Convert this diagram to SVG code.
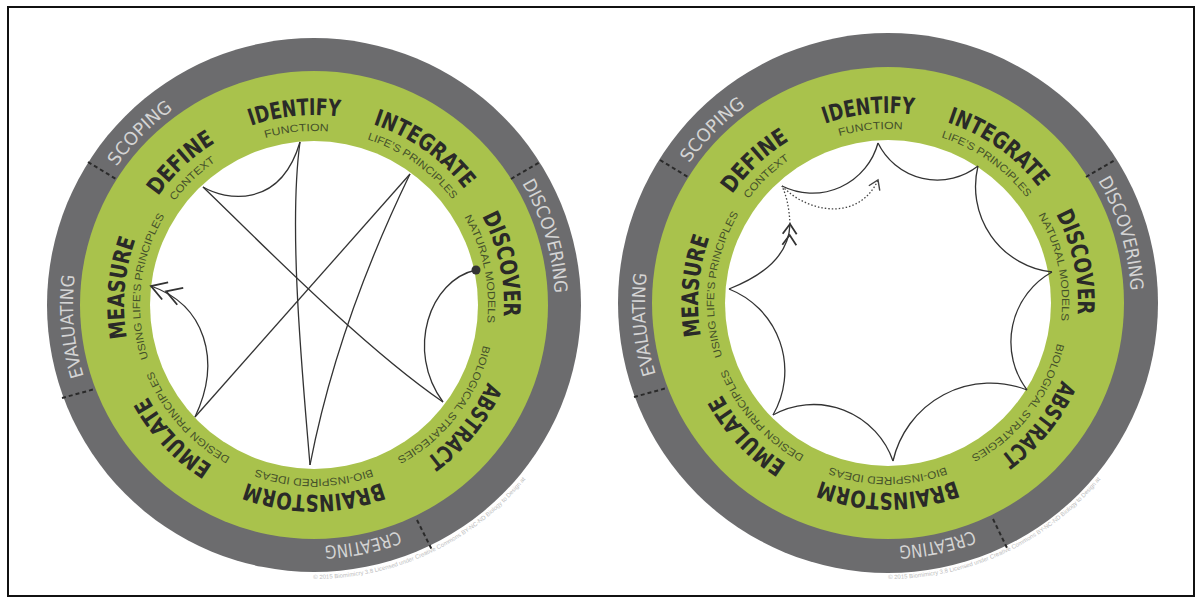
<svg xmlns="http://www.w3.org/2000/svg" width="1195" height="606" viewBox="0 0 1195 606">
<style>
.bg{fill:#ffffff}
.frame{fill:none;stroke:#111;stroke-width:2}
.outer{fill:#6c6c6e}
.green{fill:#a9c24c}
.inner{fill:#ffffff}
.main{font-family:"Liberation Sans Narrow","DejaVu Sans Condensed","Liberation Sans",sans-serif;font-weight:bold;font-size:23px;fill:#2a2a28}
.sub{font-family:"Liberation Sans","DejaVu Sans",sans-serif;font-size:10.5px;fill:#44502a}
.phase{font-family:"Liberation Sans Narrow","DejaVu Sans Condensed","Liberation Sans",sans-serif;font-size:18px;fill:#d4d4d4}
.copy{font-family:"Liberation Sans","DejaVu Sans",sans-serif;font-size:6px;fill:#bdbdbd}
.div{stroke:#2a2a2a;stroke-width:2;stroke-dasharray:4 3}
.conn{fill:none;stroke:#333;stroke-width:1.3}
.dot{fill:none;stroke:#444;stroke-width:1.3;stroke-dasharray:1.5 2}
</style>
<defs>
<marker id="dbl" markerUnits="userSpaceOnUse" markerWidth="40" markerHeight="30" refX="0" refY="0" orient="auto" overflow="visible" viewBox="-35 -15 40 30">
<path d="M-15,-9 L0,0 L-15,9 M-31,-9 L-16,0 L-31,9" fill="none" stroke="#333" stroke-width="1.8"/>
</marker>
<marker id="dbls" markerUnits="userSpaceOnUse" markerWidth="30" markerHeight="20" refX="0" refY="0" orient="auto" overflow="visible" viewBox="-25 -10 30 20">
<path d="M-10,-7 L0,0 L-10,7 M-21,-7 L-11,0 L-21,7" fill="none" stroke="#333" stroke-width="1.8"/>
</marker>
<marker id="sgl" markerUnits="userSpaceOnUse" markerWidth="20" markerHeight="20" refX="0" refY="0" orient="auto" overflow="visible" viewBox="-15 -10 20 20">
<path d="M-9,-6 L0,0 L-9,6" fill="none" stroke="#444" stroke-width="1.4"/>
</marker>
<path id="lm" d="M124,305 A190,190 0 0 1 504,305 A190,190 0 0 1 124,305 A190,190 0 0 1 504,305 A190,190 0 0 1 124,305"/>
<path id="ls" d="M140,305 A174,174 0 0 1 488,305 A174,174 0 0 1 140,305 A174,174 0 0 1 488,305 A174,174 0 0 1 140,305"/>
<path id="lg" d="M73,305 A241,241 0 0 1 555,305 A241,241 0 0 1 73,305 A241,241 0 0 1 555,305 A241,241 0 0 1 73,305"/>
<path id="lc" d="M40,305 A274,274 0 0 0 588,305 A274,274 0 0 0 40,305 A274,274 0 0 0 588,305 A274,274 0 0 0 40,305"/>
<path id="rm" d="M698,303 A190,190 0 0 1 1078,303 A190,190 0 0 1 698,303 A190,190 0 0 1 1078,303 A190,190 0 0 1 698,303"/>
<path id="rs" d="M714,303 A174,174 0 0 1 1062,303 A174,174 0 0 1 714,303 A174,174 0 0 1 1062,303 A174,174 0 0 1 714,303"/>
<path id="rg" d="M645,303 A243,243 0 0 1 1131,303 A243,243 0 0 1 645,303 A243,243 0 0 1 1131,303 A243,243 0 0 1 645,303"/>
<path id="rc" d="M612,303 A276,276 0 0 0 1164,303 A276,276 0 0 0 612,303 A276,276 0 0 0 1164,303 A276,276 0 0 0 612,303"/>
</defs>
<rect class="bg" x="0" y="0" width="1195" height="606"/>
<rect class="frame" x="8" y="7" width="1186" height="589"/>

<!-- LEFT WHEEL -->
<g id="left-wheel">
<circle class="outer" cx="314" cy="305" r="267"/>
<circle class="green" cx="314" cy="305" r="234"/>
<circle class="inner" cx="314" cy="305" r="164"/>
<g id="left-dividers">
<line class="div" x1="88" y1="162" x2="116" y2="179"/>
<line class="div" x1="511" y1="179" x2="540" y2="162"/>
<line class="div" x1="62" y1="398" x2="95" y2="389"/>
<line class="div" x1="417" y1="520" x2="432" y2="550"/>
</g>
<g id="left-phases">
<text class="phase"><textPath href="#lg" startOffset="56.2%" text-anchor="middle" textLength="81" lengthAdjust="spacingAndGlyphs">SCOPING</textPath></text>
<text class="phase"><textPath href="#lg" startOffset="72.7%" text-anchor="middle" textLength="116" lengthAdjust="spacingAndGlyphs">DISCOVERING</textPath></text>
<text class="phase"><textPath href="#lg" startOffset="35.9%" text-anchor="middle" textLength="76" lengthAdjust="spacingAndGlyphs">CREATING</textPath></text>
<text class="phase"><textPath href="#lg" startOffset="49.3%" text-anchor="middle" textLength="102" lengthAdjust="spacingAndGlyphs">EVALUATING</textPath></text>
</g>
<g id="l-identify"><text class="main"><textPath href="#lm" startOffset="61.7%" text-anchor="middle" textLength="90" lengthAdjust="spacingAndGlyphs">IDENTIFY</textPath></text><text class="sub"><textPath href="#ls" startOffset="61.7%" text-anchor="middle" textLength="64" lengthAdjust="spacingAndGlyphs">FUNCTION</textPath></text></g>
<g id="l-integrate"><text class="main"><textPath href="#lm" startOffset="67.4%" text-anchor="middle" textLength="114" lengthAdjust="spacingAndGlyphs">INTEGRATE</textPath></text><text class="sub"><textPath href="#ls" startOffset="67.4%" text-anchor="middle" textLength="106" lengthAdjust="spacingAndGlyphs">LIFE’S PRINCIPLES</textPath></text></g>
<g id="l-discover"><text class="main"><textPath href="#lm" startOffset="73.3%" text-anchor="middle" textLength="104" lengthAdjust="spacingAndGlyphs">DISCOVER</textPath></text><text class="sub"><textPath href="#ls" startOffset="73.3%" text-anchor="middle" textLength="110" lengthAdjust="spacingAndGlyphs">NATURAL MODELS</textPath></text></g>
<g id="l-abstract"><text class="main"><textPath href="#lm" startOffset="30.4%" text-anchor="middle" textLength="99" lengthAdjust="spacingAndGlyphs">ABSTRACT</textPath></text><text class="sub"><textPath href="#ls" startOffset="30.2%" text-anchor="middle" textLength="146" lengthAdjust="spacingAndGlyphs">BIOLOGICAL STRATEGIES</textPath></text></g>
<g id="l-brainstorm"><text class="main"><textPath href="#lm" startOffset="37.5%" text-anchor="middle" textLength="138" lengthAdjust="spacingAndGlyphs">BRAINSTORM</textPath></text><text class="sub"><textPath href="#ls" startOffset="37.5%" text-anchor="middle" textLength="118" lengthAdjust="spacingAndGlyphs">BIO-INSPIRED IDEAS</textPath></text></g>
<g id="l-emulate"><text class="main"><textPath href="#lm" startOffset="44%" text-anchor="middle" textLength="96" lengthAdjust="spacingAndGlyphs">EMULATE</textPath></text><text class="sub"><textPath href="#ls" startOffset="44.2%" text-anchor="middle" textLength="118" lengthAdjust="spacingAndGlyphs">DESIGN PRINCIPLES</textPath></text></g>
<g id="l-measure"><text class="main"><textPath href="#lm" startOffset="50.7%" text-anchor="middle" textLength="100" lengthAdjust="spacingAndGlyphs">MEASURE</textPath></text><text class="sub"><textPath href="#ls" startOffset="50.9%" text-anchor="middle" textLength="148" lengthAdjust="spacingAndGlyphs">USING LIFE’S PRINCIPLES</textPath></text></g>
<g id="l-define"><text class="main"><textPath href="#lm" startOffset="56.5%" text-anchor="middle" textLength="79" lengthAdjust="spacingAndGlyphs">DEFINE</textPath></text><text class="sub"><textPath href="#ls" startOffset="56.4%" text-anchor="middle" textLength="57" lengthAdjust="spacingAndGlyphs">CONTEXT</textPath></text></g>
<text class="copy"><textPath href="#lc" startOffset="16%" text-anchor="middle">© 2015 Biomimicry 3.8   Licensed under Creative Commons BY-NC-ND   Biology to Design at</textPath></text>
</g>

<g id="left-connectors">
<path class="conn" d="M203,187 C225,200 280,210 300,142"/>
<path class="conn" d="M300,142 C288,230 303,380 310,465"/>
<path class="conn" d="M203,187 C250,232 360,345 443,402"/>
<path class="conn" d="M410,174 L195,417"/>
<path class="conn" d="M410,174 Q337,325 310,465"/>
<path class="conn" d="M476,270 C430,280 405,350 443,402"/>
<path class="conn" d="M195,417 C222,360 205,305 151,286" marker-end="url(#dbl)"/>
<circle cx="476" cy="270" r="4.5" fill="#333"/>
</g>

<!-- RIGHT WHEEL -->
<g id="right-wheel">
<circle class="outer" cx="888" cy="303" r="270"/>
<circle class="green" cx="888" cy="303" r="236"/>
<circle class="inner" cx="888" cy="303" r="163"/>
<g id="right-dividers">
<line class="div" x1="660" y1="160" x2="688" y2="177"/>
<line class="div" x1="1086" y1="177" x2="1115" y2="160"/>
<line class="div" x1="634" y1="397" x2="667" y2="388"/>
<line class="div" x1="993" y1="519" x2="1008" y2="550"/>
</g>
<g id="right-phases">
<text class="phase"><textPath href="#rg" startOffset="56.2%" text-anchor="middle" textLength="81" lengthAdjust="spacingAndGlyphs">SCOPING</textPath></text>
<text class="phase"><textPath href="#rg" startOffset="72.7%" text-anchor="middle" textLength="116" lengthAdjust="spacingAndGlyphs">DISCOVERING</textPath></text>
<text class="phase"><textPath href="#rg" startOffset="35.9%" text-anchor="middle" textLength="76" lengthAdjust="spacingAndGlyphs">CREATING</textPath></text>
<text class="phase"><textPath href="#rg" startOffset="49.3%" text-anchor="middle" textLength="102" lengthAdjust="spacingAndGlyphs">EVALUATING</textPath></text>
</g>
<g id="r-identify"><text class="main"><textPath href="#rm" startOffset="61.7%" text-anchor="middle" textLength="90" lengthAdjust="spacingAndGlyphs">IDENTIFY</textPath></text><text class="sub"><textPath href="#rs" startOffset="61.7%" text-anchor="middle" textLength="64" lengthAdjust="spacingAndGlyphs">FUNCTION</textPath></text></g>
<g id="r-integrate"><text class="main"><textPath href="#rm" startOffset="67.4%" text-anchor="middle" textLength="114" lengthAdjust="spacingAndGlyphs">INTEGRATE</textPath></text><text class="sub"><textPath href="#rs" startOffset="67.4%" text-anchor="middle" textLength="106" lengthAdjust="spacingAndGlyphs">LIFE’S PRINCIPLES</textPath></text></g>
<g id="r-discover"><text class="main"><textPath href="#rm" startOffset="73.3%" text-anchor="middle" textLength="104" lengthAdjust="spacingAndGlyphs">DISCOVER</textPath></text><text class="sub"><textPath href="#rs" startOffset="73.3%" text-anchor="middle" textLength="110" lengthAdjust="spacingAndGlyphs">NATURAL MODELS</textPath></text></g>
<g id="r-abstract"><text class="main"><textPath href="#rm" startOffset="30.4%" text-anchor="middle" textLength="99" lengthAdjust="spacingAndGlyphs">ABSTRACT</textPath></text><text class="sub"><textPath href="#rs" startOffset="30.2%" text-anchor="middle" textLength="146" lengthAdjust="spacingAndGlyphs">BIOLOGICAL STRATEGIES</textPath></text></g>
<g id="r-brainstorm"><text class="main"><textPath href="#rm" startOffset="37.5%" text-anchor="middle" textLength="138" lengthAdjust="spacingAndGlyphs">BRAINSTORM</textPath></text><text class="sub"><textPath href="#rs" startOffset="37.5%" text-anchor="middle" textLength="118" lengthAdjust="spacingAndGlyphs">BIO-INSPIRED IDEAS</textPath></text></g>
<g id="r-emulate"><text class="main"><textPath href="#rm" startOffset="44%" text-anchor="middle" textLength="96" lengthAdjust="spacingAndGlyphs">EMULATE</textPath></text><text class="sub"><textPath href="#rs" startOffset="44.2%" text-anchor="middle" textLength="118" lengthAdjust="spacingAndGlyphs">DESIGN PRINCIPLES</textPath></text></g>
<g id="r-measure"><text class="main"><textPath href="#rm" startOffset="50.7%" text-anchor="middle" textLength="100" lengthAdjust="spacingAndGlyphs">MEASURE</textPath></text><text class="sub"><textPath href="#rs" startOffset="50.9%" text-anchor="middle" textLength="148" lengthAdjust="spacingAndGlyphs">USING LIFE’S PRINCIPLES</textPath></text></g>
<g id="r-define"><text class="main"><textPath href="#rm" startOffset="56.5%" text-anchor="middle" textLength="79" lengthAdjust="spacingAndGlyphs">DEFINE</textPath></text><text class="sub"><textPath href="#rs" startOffset="56.4%" text-anchor="middle" textLength="57" lengthAdjust="spacingAndGlyphs">CONTEXT</textPath></text></g>
<text class="copy"><textPath href="#rc" startOffset="16%" text-anchor="middle">© 2015 Biomimicry 3.8   Licensed under Creative Commons BY-NC-ND   Biology to Design at</textPath></text>
</g>

<g id="right-connectors">
<path class="conn" d="M782,186 A68,68 0 0 0 878,143"/>
<path class="conn" d="M878,143 A66,66 0 0 0 978,166"/>
<path class="conn" d="M978,166 A86,86 0 0 0 1052,272"/>
<path class="conn" d="M1052,272 A80,80 0 0 0 1027,390"/>
<path class="conn" d="M1027,390 A100,100 0 0 0 893,461"/>
<path class="conn" d="M893,461 A84,84 0 0 0 773,415"/>
<path class="conn" d="M773,415 A88,88 0 0 0 729,289"/>
<path class="conn" d="M729,289 C765,275 789,255 790,224" marker-end="url(#dbls)"/>
<path class="dot" d="M790,224 C789,205 786,195 782,186"/>
<path class="dot" d="M782,186 C810,215 860,220 878,180" marker-end="url(#sgl)"/>
</g>
</svg>
